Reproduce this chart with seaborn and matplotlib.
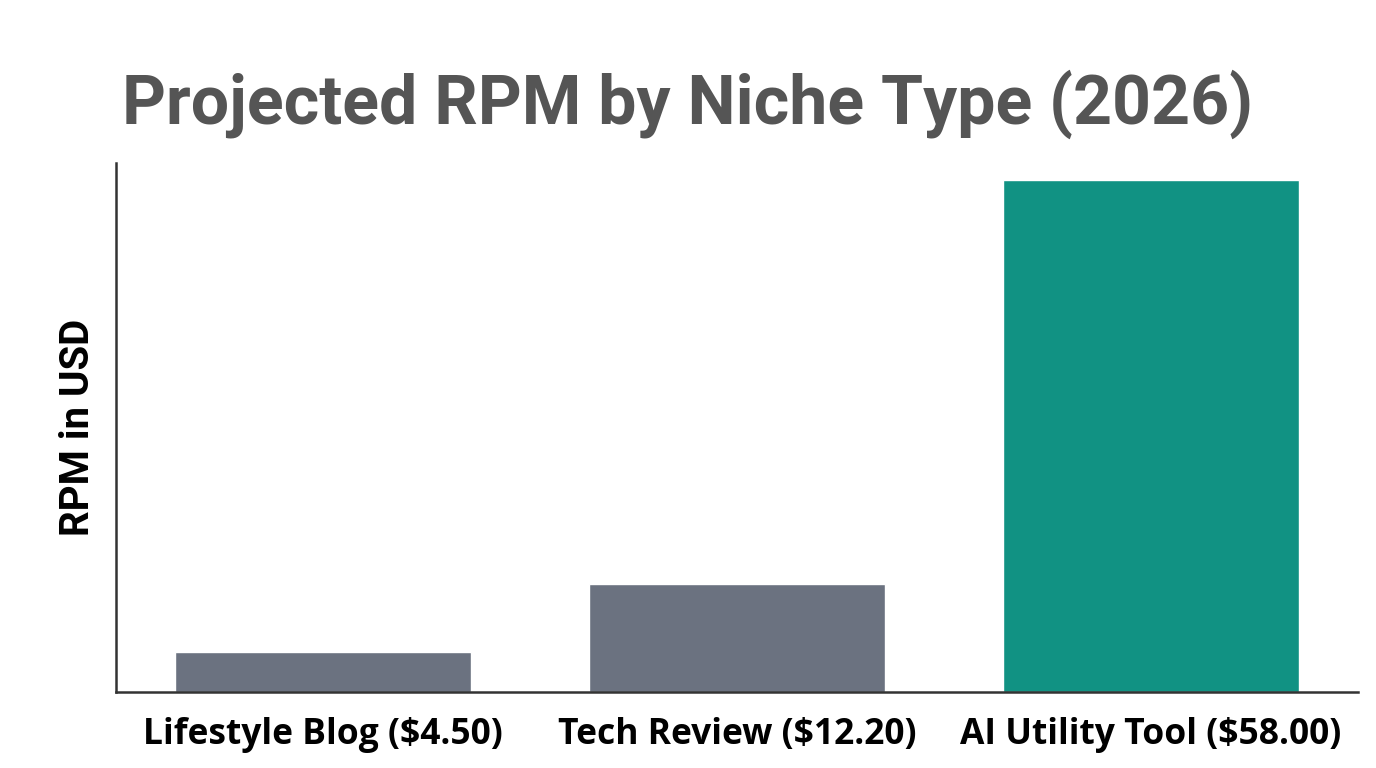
import matplotlib
matplotlib.use("Agg")
import matplotlib.pyplot as plt
import seaborn as sns
import pandas as pd

# dati del grafico
nicchie = ['Lifestyle Blog ($4.50)', 'Tech Review ($12.20)', 'AI Utility Tool ($58.00)']
rpm = [4.50, 12.20, 58.00]
colori = ['#6b7280', '#6b7280', '#119283']

df = pd.DataFrame({'nicchia': nicchie, 'rpm': rpm})

sns.set_style('white')
plt.rcParams['font.family'] = ['Roboto', 'DejaVu Sans']

fig = plt.figure(figsize=(13.76, 7.68), dpi=100)
ax = fig.add_axes([0.0843, 0.099, 0.9027, 0.689])

sns.barplot(data=df, x='nicchia', y='rpm', hue='nicchia', palette=colori,
            legend=False, width=0.715, saturation=1, ax=ax)

ax.set_xlim(-0.5, 2.5)
ax.set_ylim(0, 60)
ax.set_yticks([])
ax.set_xlabel('')
ax.set_ylabel('RPM in USD', fontsize=29, fontweight='bold', color='black', labelpad=14)
ax.tick_params(axis='x', length=0, pad=18)
for lab in ax.get_xticklabels():
    lab.set_fontfamily(['Open Sans', 'DejaVu Sans'])
    lab.set_fontweight('bold')
    lab.set_fontsize(25.5)
    lab.set_color('black')

sns.despine(ax=ax)
for s in ['left', 'bottom']:
    ax.spines[s].set_color('#333333')
    ax.spines[s].set_linewidth(1.8)

fig.text(0.5, 0.864, 'Projected RPM by Niche Type (2026)', ha='center', va='center',
         fontsize=49, fontweight='bold', color='#555555')

fig.savefig('out.png', dpi=100)
